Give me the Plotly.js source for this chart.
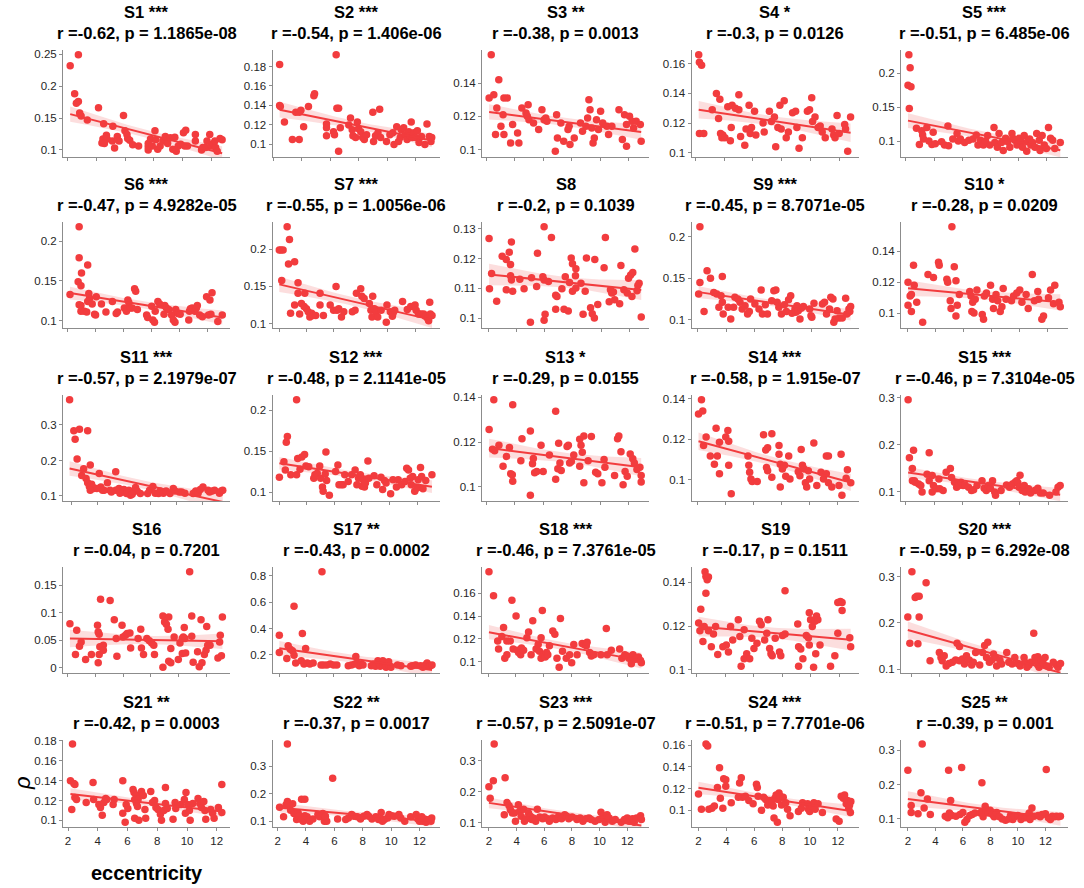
<!DOCTYPE html>
<html><head><meta charset="utf-8">
<script src="https://cdn.plot.ly/plotly-3.0.1.min.js"></script>
<style>html,body{margin:0;padding:0;background:#fff}#chart{width:1084px;height:888px}</style>
</head><body><div id="chart"></div>
<script>
const subjects = ['S1','S2','S3','S4','S5','S6','S7','S8','S9','S10','S11','S12','S13','S14','S15','S16','S17','S18','S19','S20','S21','S22','S23','S24','S25'];
const stars = ['***','***','**','*','***','***','***','','***','*','***','***','*','***','***','','**','***','','***','**','**','***','***','**'];
const rValues = ['-0.62','-0.54','-0.38','-0.3','-0.51','-0.47','-0.55','-0.2','-0.45','-0.28','-0.57','-0.48','-0.29','-0.58','-0.46','-0.04','-0.43','-0.46','-0.17','-0.59','-0.42','-0.37','-0.57','-0.51','-0.39'];
const pValues = ['1.1865e-08','1.406e-06','0.0013','0.0126','6.485e-06','4.9282e-05','1.0056e-06','0.1039','8.7071e-05','0.0209','2.1979e-07','2.1141e-05','0.0155','1.915e-07','7.3104e-05','0.7201','0.0002','7.3761e-05','0.1511','6.292e-08','0.0003','0.0017','2.5091e-07','7.7701e-06','0.001'];
const xTicks = [2,4,6,8,10,12];
const yTicks = [
 [0.1,0.15,0.2,0.25],[0.1,0.12,0.14,0.16,0.18],[0.1,0.12,0.14],[0.1,0.12,0.14,0.16],[0.1,0.15,0.2],
 [0.1,0.15,0.2],[0.1,0.15,0.2],[0.1,0.11,0.12,0.13],[0.1,0.15,0.2],[0.1,0.12,0.14],
 [0.1,0.2,0.3],[0.1,0.15,0.2],[0.1,0.12,0.14],[0.1,0.12,0.14],[0.1,0.2,0.3],
 [0,0.05,0.1,0.15],[0.2,0.4,0.6,0.8],[0.1,0.12,0.14,0.16],[0.1,0.12,0.14],[0.1,0.2,0.3],
 [0.1,0.12,0.14,0.16,0.18],[0.1,0.2,0.3],[0.1,0.2,0.3],[0.1,0.12,0.14,0.16],[0.1,0.2,0.3]
];

const s1x=[2.17,2.74,2.48,2.74,2.6,2.83,2.93,3.36,4.14,4.5,4.45,4.38,4.69,4.74,4.55,5.14,5.1,5.26,5.45,5.57,5.88,5.98,6.12,6.17,6.31,6.52,6.93,7.6,7.6,7.6,7.76,7.88,8.07,8.12,8.26,8.43,8.62,8.79,8.95,9.14,9.31,9.45,9.55,9.69,9.86,10.05,10.21,10.14,10.33,10.88,10.88,11.31,11.4,11.6,11.69,11.88,12.0,12.12,12.29,12.4,12.6,12.74,12.24];
const s1y=[0.232,0.249,0.188,0.176,0.173,0.158,0.153,0.147,0.166,0.141,0.117,0.111,0.123,0.117,0.110,0.137,0.114,0.103,0.121,0.114,0.154,0.130,0.124,0.118,0.115,0.108,0.106,0.110,0.105,0.100,0.117,0.106,0.130,0.116,0.101,0.106,0.114,0.121,0.110,0.119,0.101,0.120,0.098,0.106,0.109,0.127,0.131,0.106,0.106,0.124,0.114,0.100,0.104,0.104,0.114,0.124,0.106,0.110,0.104,0.098,0.118,0.116,0.114];
const s2x=[2.43,2.43,2.48,2.77,3.33,3.81,3.57,3.81,3.93,4.12,4.46,4.84,4.89,5.73,5.73,5.73,6.22,6.29,6.41,6.46,6.58,6.58,6.7,7.3,7.42,7.54,7.59,7.78,7.9,7.98,8.14,8.27,8.39,8.55,8.99,9.04,9.18,9.35,9.47,9.54,9.95,10.19,10.39,10.48,10.67,10.8,10.92,10.99,11.16,11.28,11.4,11.52,11.59,11.69,11.76,11.88,12.0,12.12,12.24,12.41,12.65,12.8,12.96,13.08,13.13];
const s2y=[0.182,0.140,0.139,0.123,0.105,0.105,0.133,0.133,0.135,0.118,0.139,0.150,0.152,0.121,0.117,0.109,0.113,0.110,0.192,0.137,0.137,0.093,0.117,0.120,0.127,0.115,0.109,0.107,0.123,0.116,0.113,0.107,0.105,0.110,0.133,0.103,0.109,0.112,0.136,0.107,0.103,0.110,0.112,0.100,0.118,0.103,0.107,0.115,0.117,0.110,0.105,0.113,0.109,0.123,0.107,0.112,0.107,0.114,0.102,0.108,0.100,0.121,0.108,0.103,0.107];
const s3x=[2.2,2.35,2.53,2.74,2.65,2.88,3.03,3.18,3.24,3.47,3.24,3.71,3.85,4.2,4.29,4.5,4.79,4.88,4.94,5.0,5.32,5.68,5.91,6.06,6.18,6.26,6.85,6.94,7.0,7.24,7.44,7.74,7.82,7.88,8.18,8.62,8.76,9.0,9.12,9.21,9.29,9.41,9.5,9.59,9.74,9.88,10.03,10.18,10.47,10.59,10.82,11.32,11.56,11.71,11.85,11.85,12.06,12.24,12.35,12.53,12.82,12.88];
const s3y=[0.131,0.157,0.133,0.125,0.109,0.142,0.114,0.121,0.131,0.131,0.109,0.104,0.115,0.110,0.104,0.125,0.122,0.120,0.127,0.118,0.116,0.112,0.124,0.118,0.119,0.117,0.099,0.121,0.107,0.116,0.105,0.112,0.114,0.103,0.107,0.116,0.111,0.114,0.119,0.130,0.124,0.113,0.104,0.107,0.118,0.112,0.123,0.116,0.114,0.109,0.114,0.124,0.106,0.121,0.102,0.115,0.120,0.117,0.113,0.117,0.115,0.105];
const s4x=[2.24,2.29,2.44,2.29,2.59,3.18,3.47,3.62,3.71,3.76,3.85,3.91,4.06,4.26,4.44,4.5,4.56,4.79,5.03,5.03,5.15,5.44,5.53,5.74,5.82,5.91,6.12,6.21,6.71,6.79,7.15,7.29,7.5,7.59,7.74,7.88,7.97,8.18,8.32,8.47,8.76,8.97,9.06,9.21,9.44,9.79,9.94,10.09,10.15,10.32,10.53,10.68,10.82,11.03,11.5,11.62,11.71,11.85,12.0,12.38,12.44,12.59,12.79];
const s4y=[0.166,0.161,0.159,0.113,0.113,0.129,0.140,0.123,0.136,0.113,0.110,0.112,0.110,0.131,0.108,0.117,0.132,0.130,0.139,0.129,0.111,0.105,0.116,0.132,0.113,0.117,0.128,0.112,0.120,0.114,0.128,0.121,0.124,0.104,0.117,0.132,0.116,0.135,0.110,0.114,0.127,0.128,0.117,0.103,0.110,0.128,0.129,0.137,0.121,0.124,0.117,0.118,0.114,0.110,0.116,0.112,0.110,0.125,0.113,0.119,0.116,0.101,0.124];
const s5x=[2.21,2.3,2.15,2.36,2.24,2.75,2.96,3.13,3.19,3.25,3.49,3.64,3.85,3.94,4.09,4.54,4.75,4.99,5.04,5.34,5.64,5.73,5.88,6.18,6.48,6.78,7.01,7.13,7.31,7.52,7.67,7.82,7.97,8.27,8.33,8.51,8.63,8.81,8.93,9.1,9.25,9.4,9.55,9.61,9.76,9.91,10.06,10.21,10.3,10.42,10.6,10.66,10.81,10.9,11.01,11.19,11.31,11.49,11.55,11.7,11.85,12.0,12.15,12.3,12.45,12.6,12.99];
const s5y=[0.227,0.208,0.182,0.180,0.148,0.119,0.095,0.115,0.109,0.103,0.120,0.100,0.095,0.113,0.096,0.099,0.094,0.122,0.093,0.103,0.111,0.100,0.103,0.098,0.101,0.103,0.109,0.094,0.101,0.094,0.100,0.108,0.094,0.120,0.098,0.091,0.111,0.098,0.086,0.104,0.099,0.091,0.111,0.104,0.101,0.094,0.104,0.099,0.091,0.108,0.085,0.099,0.103,0.094,0.098,0.091,0.111,0.101,0.086,0.108,0.094,0.089,0.120,0.104,0.101,0.089,0.098];
const s6x=[2.2,2.85,2.85,2.78,2.98,3.02,2.85,2.98,2.98,3.22,3.39,3.46,3.54,3.59,3.46,3.78,3.95,4.02,4.07,4.44,4.76,5.22,5.49,5.59,6.07,6.22,6.32,6.39,6.51,6.63,6.8,6.88,7.0,7.66,7.73,8.02,8.1,8.22,8.27,8.46,8.59,8.9,8.95,9.07,9.24,9.44,9.56,9.68,9.73,9.88,10.05,10.66,10.71,10.78,10.9,11.1,11.2,11.27,11.44,11.63,11.93,12.07,12.17,12.24,12.32,12.73,13.05];
const s6y=[0.133,0.218,0.179,0.149,0.144,0.160,0.120,0.119,0.112,0.112,0.111,0.170,0.134,0.128,0.124,0.121,0.108,0.107,0.130,0.121,0.111,0.124,0.109,0.111,0.116,0.112,0.126,0.123,0.116,0.116,0.140,0.137,0.114,0.107,0.104,0.118,0.101,0.098,0.112,0.124,0.121,0.108,0.119,0.116,0.114,0.107,0.101,0.098,0.114,0.109,0.108,0.101,0.112,0.115,0.116,0.112,0.116,0.119,0.107,0.105,0.130,0.107,0.126,0.108,0.135,0.099,0.107];
const s7x=[2.0,2.12,2.28,2.18,2.58,2.75,2.68,2.83,3.13,3.13,3.38,3.38,3.5,3.63,3.83,3.88,4.0,4.13,4.25,4.38,4.5,4.68,5.0,5.0,5.25,5.75,6.0,6.18,6.25,6.38,6.58,6.75,7.38,7.58,7.68,8.0,8.08,8.25,8.63,8.75,8.83,8.88,9.0,9.13,9.25,9.5,9.88,9.93,10.18,10.33,10.38,10.5,11.08,11.43,11.68,11.88,12.0,12.08,12.25,12.43,12.63,12.75,12.93,13.0,13.08,13.13,13.25];
const s7y=[0.199,0.199,0.199,0.158,0.230,0.213,0.180,0.114,0.183,0.125,0.155,0.141,0.113,0.127,0.123,0.141,0.120,0.116,0.109,0.114,0.111,0.111,0.141,0.125,0.111,0.125,0.118,0.150,0.118,0.120,0.109,0.116,0.116,0.118,0.141,0.147,0.137,0.134,0.127,0.118,0.109,0.137,0.120,0.116,0.109,0.118,0.102,0.125,0.116,0.110,0.114,0.118,0.130,0.119,0.123,0.123,0.125,0.118,0.113,0.113,0.113,0.110,0.107,0.104,0.129,0.113,0.111];
const s8x=[2.06,2.09,2.24,2.6,2.99,3.28,3.28,3.49,3.58,3.64,3.58,3.64,3.73,4.24,4.54,4.99,5.07,5.43,5.49,5.87,5.96,5.96,6.03,5.96,6.27,6.48,6.78,6.87,6.78,7.22,7.37,7.67,7.46,7.76,7.88,7.97,7.97,8.21,8.18,8.21,8.57,8.72,8.87,8.96,9.25,9.37,9.52,9.55,9.76,10.21,10.3,10.57,10.66,10.75,10.96,10.87,11.31,11.4,11.61,11.85,11.94,12.09,12.24,12.18,12.39,12.54,12.6,12.69,12.84];
const s8y=[0.1268,0.1099,0.1150,0.1057,0.1208,0.1197,0.1095,0.1221,0.1180,0.1256,0.1142,0.1128,0.1090,0.1131,0.1099,0.0986,0.1136,0.1106,0.1218,0.1139,0.1128,0.1307,0.1013,0.0993,0.1123,0.1271,0.1077,0.1073,0.1030,0.1099,0.1030,0.1024,0.1139,0.1120,0.1202,0.1183,0.1090,0.1166,0.1142,0.1101,0.1117,0.1013,0.1090,0.1202,0.1035,0.1015,0.1000,0.1197,0.1046,0.1169,0.1271,0.1055,0.1095,0.1084,0.1062,0.1088,0.1048,0.1177,0.1095,0.1084,0.1134,0.1145,0.1153,0.1073,0.1232,0.1092,0.1110,0.1117,0.1004];
const s9x=[2.15,2.06,2.15,2.65,2.89,2.44,3.12,3.33,3.48,3.63,3.72,3.78,3.72,4.13,4.31,4.51,4.6,4.81,4.96,5.11,5.31,5.49,5.61,5.7,6.0,6.29,6.44,6.53,6.73,6.88,7.18,7.33,7.47,7.56,7.68,7.86,8.07,8.21,8.36,8.51,8.6,8.81,8.86,8.95,9.04,9.16,9.25,9.4,9.84,9.93,9.99,10.14,10.73,10.88,11.02,11.23,11.32,11.47,11.53,11.62,11.76,11.91,12.12,12.36,12.44,12.59,12.71,12.65];
const s9y=[0.212,0.131,0.145,0.159,0.150,0.110,0.133,0.131,0.115,0.129,0.152,0.107,0.121,0.115,0.101,0.115,0.127,0.125,0.121,0.113,0.117,0.107,0.110,0.125,0.119,0.113,0.136,0.107,0.118,0.107,0.123,0.135,0.136,0.121,0.115,0.107,0.118,0.110,0.124,0.129,0.108,0.113,0.109,0.117,0.111,0.101,0.114,0.116,0.113,0.105,0.103,0.120,0.119,0.121,0.107,0.113,0.127,0.125,0.097,0.101,0.111,0.102,0.102,0.126,0.107,0.113,0.116,0.110];
const s10x=[2.06,2.06,2.21,2.3,2.3,2.45,2.5,2.68,3.1,3.48,3.87,4.23,4.28,4.82,4.88,5.06,5.12,5.18,5.35,5.47,5.47,5.56,5.71,6.45,6.54,6.6,6.75,6.66,6.84,6.96,7.34,7.43,7.49,7.64,7.93,8.08,8.14,8.32,8.44,8.62,8.74,8.83,9.03,9.42,9.57,9.8,10.01,10.16,10.46,10.61,10.9,11.05,11.29,11.35,11.58,11.7,12.05,12.2,12.5,12.41,12.8,12.89];
const s10y=[0.120,0.105,0.111,0.112,0.101,0.131,0.118,0.107,0.094,0.125,0.123,0.133,0.131,0.122,0.120,0.108,0.103,0.156,0.130,0.121,0.098,0.105,0.112,0.114,0.111,0.101,0.100,0.107,0.109,0.115,0.099,0.096,0.111,0.113,0.118,0.109,0.103,0.112,0.108,0.101,0.104,0.116,0.109,0.108,0.111,0.113,0.115,0.107,0.112,0.103,0.125,0.108,0.114,0.109,0.096,0.098,0.110,0.115,0.118,0.106,0.107,0.104];
const s11x=[1.88,2.2,2.3,2.63,2.45,3.25,2.95,3.45,2.8,3.13,3.25,3.38,3.55,3.7,4.13,4.25,4.38,4.75,4.95,5.38,5.38,5.63,5.88,6.0,6.2,6.38,6.5,6.7,6.88,7.0,7.25,7.8,7.95,8.2,8.38,8.63,8.75,9.0,9.2,9.5,9.75,9.88,10.2,10.38,10.63,11.25,11.45,11.63,11.8,12.0,12.38,12.5,12.7,12.88,13.25,13.38,13.5,4.5,5.05,3.95,3.63,3.45,5.7,6.63];
const s11y=[0.371,0.284,0.260,0.288,0.204,0.284,0.177,0.187,0.158,0.149,0.137,0.127,0.133,0.121,0.163,0.125,0.116,0.137,0.116,0.168,0.116,0.121,0.111,0.118,0.107,0.116,0.102,0.111,0.124,0.114,0.107,0.107,0.116,0.127,0.108,0.107,0.114,0.108,0.114,0.107,0.121,0.114,0.111,0.111,0.108,0.107,0.114,0.108,0.118,0.125,0.116,0.111,0.114,0.116,0.108,0.114,0.116,0.116,0.111,0.121,0.125,0.116,0.108,0.105];
const s12x=[2.0,2.33,2.43,2.5,2.58,2.83,3.25,3.25,3.33,3.5,3.63,3.83,3.93,4.13,4.5,4.58,4.75,4.93,5.0,5.13,5.18,5.33,5.38,5.43,5.63,6.08,6.25,6.33,6.5,6.63,6.75,7.0,7.25,7.5,7.63,7.75,7.88,8.0,8.08,8.18,8.25,8.43,8.5,8.88,9.08,9.38,9.5,9.63,9.75,10.08,10.25,10.5,10.63,10.88,11.13,11.25,11.38,11.5,11.58,11.68,11.83,12.0,12.08,12.25,12.33,12.43,12.63,13.08];
const s12y=[0.118,0.137,0.127,0.161,0.168,0.121,0.213,0.121,0.141,0.128,0.143,0.146,0.132,0.131,0.117,0.121,0.123,0.132,0.117,0.106,0.101,0.122,0.149,0.114,0.096,0.125,0.133,0.109,0.109,0.109,0.121,0.113,0.121,0.127,0.109,0.117,0.121,0.107,0.115,0.106,0.111,0.138,0.117,0.120,0.109,0.118,0.103,0.114,0.111,0.098,0.115,0.106,0.115,0.109,0.113,0.129,0.127,0.117,0.109,0.119,0.101,0.105,0.115,0.130,0.119,0.104,0.114,0.121];
const s13x=[2.2,2.53,2.44,2.59,2.89,3.18,3.42,3.63,3.72,3.83,3.86,3.86,4.43,4.51,5.1,5.1,5.25,5.31,5.4,5.55,5.85,6.0,6.44,6.88,6.88,7.03,7.09,7.18,7.27,7.68,7.77,7.86,7.98,8.15,8.57,8.66,8.57,8.75,8.86,8.86,9.16,9.39,9.69,9.84,10.13,10.28,10.34,11.02,11.23,11.32,11.47,11.62,11.76,11.91,12.12,12.3,12.41,12.59,12.8,12.89,12.89];
const s13y=[0.1256,0.1388,0.1168,0.1161,0.1186,0.1092,0.1136,0.1176,0.1059,0.1054,0.1025,0.1366,0.1117,0.1215,0.0963,0.1249,0.1103,0.1127,0.1063,0.1069,0.1186,0.1069,0.1142,0.1337,0.1034,0.1081,0.1195,0.1107,0.1073,0.1180,0.1186,0.1107,0.1113,0.1142,0.1092,0.1186,0.1212,0.1154,0.1227,0.1019,0.1117,0.1224,0.1066,0.1059,0.1019,0.1122,0.1088,0.1051,0.1215,0.1227,0.1157,0.1010,0.1069,0.1048,0.1147,0.1125,0.1107,0.1078,0.1088,0.1051,0.1022];
const s14x=[2.09,2.3,2.39,2.45,2.63,2.93,3.22,3.34,3.43,3.58,3.58,4.03,4.18,4.24,4.24,4.42,5.61,5.67,5.73,5.82,5.91,6.27,6.72,6.87,7.01,6.93,7.01,7.31,7.31,7.82,7.82,7.91,7.91,8.06,8.21,8.3,8.51,8.6,9.19,9.31,9.4,9.49,9.61,9.7,9.79,9.91,10.0,10.3,10.51,10.81,10.99,11.19,11.34,11.34,11.58,12.09,12.24,12.3,12.6,12.69,12.93,11.19];
const s14y=[0.1324,0.1395,0.1340,0.1168,0.1211,0.1117,0.1076,0.1254,0.1117,0.1028,0.1185,0.1211,0.1243,0.1071,0.1189,0.0930,0.1117,0.1071,0.1036,0.1003,0.0990,0.0990,0.1222,0.1146,0.1157,0.1060,0.1044,0.1227,0.1011,0.1168,0.1125,0.1076,0.0963,0.1052,0.1071,0.1016,0.1117,0.1003,0.1039,0.1019,0.1149,0.1071,0.1052,0.0984,0.0963,0.1044,0.1003,0.1181,0.0971,0.1036,0.1003,0.1117,0.1117,0.0984,0.0963,0.0971,0.1125,0.0922,0.1006,0.1049,0.0984,0.1028];
const s15x=[2.15,2.24,2.53,2.45,2.45,2.59,2.65,2.89,3.04,3.13,3.48,3.63,3.63,3.84,3.84,3.93,4.14,4.37,4.61,4.31,4.82,5.12,5.2,5.41,5.56,5.71,5.86,6.01,6.15,6.39,6.6,6.75,6.99,7.34,7.49,7.64,7.79,7.93,8.08,8.23,8.29,8.68,9.06,9.27,9.48,9.66,9.78,9.86,10.01,9.95,10.16,10.31,10.37,10.61,10.75,11.05,11.26,11.44,11.64,12.09,12.53,12.68,12.83];
const s15y=[0.296,0.172,0.188,0.149,0.123,0.123,0.120,0.116,0.113,0.099,0.137,0.123,0.183,0.134,0.099,0.113,0.106,0.106,0.102,0.127,0.141,0.149,0.130,0.120,0.109,0.113,0.120,0.113,0.114,0.109,0.102,0.104,0.113,0.123,0.107,0.102,0.113,0.107,0.123,0.099,0.092,0.102,0.114,0.109,0.116,0.120,0.123,0.118,0.135,0.109,0.102,0.113,0.099,0.106,0.097,0.102,0.107,0.097,0.097,0.092,0.099,0.109,0.113];
const s16x=[2.17,2.66,2.57,2.86,2.98,3.3,3.72,4.16,4.21,4.28,4.38,4.21,4.33,4.46,4.28,4.58,4.58,5.07,5.37,5.51,5.56,5.93,6.0,6.18,6.3,6.5,6.55,7.09,7.28,7.33,7.48,7.72,7.9,8.07,8.22,8.27,8.88,8.88,9.0,9.13,9.3,9.25,9.3,9.45,9.45,9.69,9.99,10.11,10.28,10.35,10.47,10.28,10.52,10.42,10.81,10.96,10.96,11.06,11.38,11.5,11.63,11.7,11.87,11.99,12.04,12.11,12.28,12.85,12.97,13.02,13.1,13.17];
const s16y=[0.080,0.068,0.024,0.039,0.047,0.015,0.024,0.077,0.065,0.061,0.124,0.009,0.038,0.038,0.024,0.041,0.032,0.122,0.087,0.053,0.021,0.077,0.056,0.059,0.062,0.063,0.036,0.053,0.070,0.036,0.024,0.053,0.049,0.045,0.041,0.024,0.094,0.001,0.083,0.079,0.092,0.070,0.012,0.009,0.035,0.056,0.015,0.045,0.053,0.056,0.053,0.026,0.027,0.073,0.174,0.094,0.057,0.010,0.029,0.002,0.087,0.009,0.024,0.032,0.075,0.041,0.041,0.018,0.047,0.059,0.022,0.092];
const s17x=[2.0,2.0,2.55,2.65,2.8,2.96,3.08,3.08,3.2,3.69,3.61,3.93,3.81,4.05,4.24,4.48,5.13,5.06,5.25,5.49,5.73,5.98,6.22,7.06,7.3,7.54,7.61,7.71,7.86,8.02,8.14,8.75,8.92,9.06,9.23,9.3,9.4,9.59,9.71,9.83,9.95,10.07,10.19,10.67,10.92,11.64,11.76,12.0,12.36,12.53,12.72,12.84,12.96,13.08,13.2,9.59,10.02];
const s17y=[0.348,0.218,0.172,0.268,0.243,0.230,0.197,0.569,0.137,0.363,0.155,0.248,0.130,0.137,0.130,0.137,0.832,0.122,0.122,0.122,0.130,0.122,0.122,0.117,0.122,0.130,0.187,0.137,0.117,0.130,0.122,0.117,0.130,0.112,0.155,0.137,0.112,0.122,0.137,0.105,0.130,0.117,0.105,0.122,0.117,0.112,0.117,0.122,0.117,0.105,0.122,0.137,0.112,0.117,0.122,0.155,0.147];
const s18x=[2.06,2.39,2.69,2.75,2.99,3.11,3.2,3.35,3.35,3.59,3.71,3.8,4.01,4.1,4.19,4.34,4.4,4.55,4.79,4.91,5.09,5.21,5.45,5.6,5.69,5.81,5.9,5.81,5.99,6.11,6.2,6.29,6.41,6.65,6.8,6.95,7.11,7.2,7.35,7.62,7.86,8.01,8.16,8.4,8.76,8.91,9.06,9.12,9.3,9.42,9.6,10.11,10.5,10.56,10.86,11.46,11.62,11.83,12.0,12.12,12.3,12.42,12.6,12.81,12.96,13.02];
const s18y=[0.179,0.158,0.118,0.111,0.122,0.130,0.103,0.106,0.118,0.118,0.154,0.111,0.140,0.110,0.108,0.106,0.112,0.110,0.121,0.126,0.106,0.136,0.111,0.115,0.109,0.121,0.145,0.103,0.106,0.104,0.108,0.106,0.114,0.127,0.124,0.103,0.095,0.138,0.109,0.103,0.106,0.099,0.115,0.106,0.116,0.115,0.114,0.117,0.108,0.105,0.106,0.106,0.129,0.106,0.110,0.111,0.103,0.106,0.105,0.103,0.098,0.106,0.102,0.104,0.101,0.099];
const s19x=[2.15,2.24,2.3,2.45,2.6,2.66,2.75,2.84,2.66,2.54,2.84,3.04,3.19,3.34,3.49,3.85,4.09,4.24,4.39,4.54,4.93,5.04,5.13,5.34,5.34,5.52,5.73,5.88,6.03,6.24,6.42,6.54,6.78,6.93,7.01,7.13,7.22,7.31,7.52,7.82,7.91,8.03,8.21,8.21,9.1,9.16,9.31,9.16,9.46,9.7,9.85,9.91,10.0,9.91,10.12,10.21,10.3,10.42,10.51,10.36,10.66,11.4,11.7,11.91,11.91,12.09,12.21,12.21,12.75,12.81];
const s19y=[0.1214,0.1178,0.1276,0.1129,0.1447,0.1426,0.1411,0.1423,0.1349,0.1198,0.1178,0.1105,0.1163,0.1198,0.1070,0.1105,0.1113,0.1082,0.1198,0.1136,0.1229,0.1152,0.1017,0.1051,0.1183,0.1074,0.1051,0.1144,0.1098,0.1121,0.1222,0.1206,0.1136,0.1167,0.1229,0.1098,0.1074,0.1064,0.1144,0.1082,0.1064,0.1157,0.1163,0.1361,0.1209,0.1105,0.1095,0.1017,0.1051,0.1157,0.1147,0.1260,0.1229,0.1113,0.1198,0.1012,0.1222,0.1245,0.1229,0.1074,0.1113,0.1017,0.1064,0.1167,0.1307,0.1312,0.1307,0.1271,0.1147,0.1105];
const s20x=[1.7,1.85,2.0,2.24,2.36,2.53,2.53,2.44,3.04,3.33,4.01,4.13,4.22,4.37,4.51,4.72,4.96,5.2,5.31,5.49,5.49,5.7,5.85,6.0,6.2,6.38,6.5,6.67,6.97,7.18,7.33,7.56,7.47,7.68,7.86,7.98,8.15,8.21,8.45,8.57,8.95,9.1,9.34,9.54,9.75,9.93,10.22,10.28,10.43,10.58,10.73,10.93,11.02,11.11,11.23,11.23,11.32,11.47,11.62,11.76,11.91,12.06,12.36,12.59,12.71,12.89];
const s20y=[0.213,0.156,0.311,0.255,0.258,0.258,0.213,0.155,0.287,0.118,0.136,0.125,0.118,0.129,0.107,0.112,0.115,0.120,0.156,0.149,0.118,0.122,0.111,0.129,0.120,0.109,0.115,0.136,0.109,0.136,0.151,0.158,0.125,0.115,0.120,0.133,0.125,0.107,0.120,0.111,0.136,0.115,0.111,0.125,0.112,0.107,0.125,0.115,0.104,0.109,0.115,0.178,0.125,0.118,0.127,0.109,0.104,0.120,0.112,0.125,0.107,0.104,0.115,0.109,0.104,0.112];
const s21x=[2.16,2.3,2.25,2.39,2.46,2.46,2.57,3.22,3.68,3.72,4.07,4.18,4.3,4.41,4.53,4.6,5.03,5.1,5.68,5.68,5.84,5.91,6.02,6.37,6.44,6.6,6.48,6.71,6.6,6.67,6.48,6.76,6.94,7.06,7.17,7.22,7.56,7.68,7.82,7.91,8.05,8.21,8.28,8.44,8.55,8.55,8.67,9.06,9.2,9.24,9.59,9.82,9.93,9.89,10.05,10.16,10.21,10.39,10.74,10.86,10.97,11.13,11.2,11.26,11.59,11.72,11.82,12.11,12.34,12.34];
const s21y=[0.140,0.177,0.111,0.137,0.136,0.123,0.121,0.118,0.138,0.121,0.116,0.113,0.105,0.118,0.122,0.121,0.116,0.121,0.140,0.107,0.098,0.116,0.112,0.131,0.128,0.125,0.121,0.121,0.117,0.114,0.102,0.100,0.129,0.125,0.111,0.102,0.129,0.118,0.120,0.113,0.111,0.106,0.100,0.110,0.133,0.117,0.112,0.101,0.118,0.112,0.116,0.121,0.128,0.107,0.116,0.110,0.100,0.117,0.122,0.117,0.113,0.119,0.110,0.101,0.111,0.107,0.102,0.113,0.136,0.108];
const s22x=[2.14,2.42,2.6,2.69,2.69,2.76,2.92,3.06,3.15,3.34,3.45,3.52,3.69,3.92,3.69,3.8,3.92,4.08,4.22,4.26,4.49,4.84,4.96,5.19,5.3,5.46,5.37,5.88,6.23,6.8,6.99,7.22,7.38,7.61,7.84,8.07,8.3,8.42,8.65,8.93,9.11,9.3,9.39,9.53,9.76,9.85,10.04,10.22,10.55,10.68,10.96,11.38,11.77,11.88,12.0,12.16,12.23,12.35,12.53,12.7,12.86,12.46,12.81];
const s22y=[0.151,0.116,0.160,0.381,0.172,0.163,0.140,0.163,0.128,0.106,0.130,0.118,0.180,0.180,0.106,0.100,0.120,0.116,0.106,0.100,0.108,0.124,0.116,0.128,0.100,0.100,0.118,0.256,0.108,0.106,0.112,0.124,0.118,0.116,0.108,0.118,0.124,0.118,0.108,0.116,0.106,0.132,0.100,0.106,0.112,0.124,0.120,0.118,0.124,0.112,0.100,0.116,0.124,0.108,0.100,0.116,0.100,0.108,0.104,0.106,0.112,0.096,0.100];
const s23x=[2.0,2.09,2.38,2.32,3.17,3.11,3.31,3.46,3.55,3.69,3.84,3.92,4.13,4.22,4.33,4.51,4.57,4.71,4.86,5.0,5.09,5.21,5.38,5.5,5.67,5.88,6.02,6.26,6.37,6.61,6.84,7.04,7.25,7.48,7.63,7.77,8.01,8.36,8.59,8.79,9.0,9.23,9.38,9.67,9.96,10.1,10.25,10.34,10.4,10.54,10.69,10.92,11.13,11.56,11.8,12.0,12.15,12.38,12.5,12.67,12.96,13.02];
const s23y=[0.216,0.179,0.353,0.235,0.245,0.126,0.165,0.155,0.142,0.132,0.132,0.105,0.158,0.137,0.121,0.144,0.105,0.113,0.132,0.121,0.111,0.116,0.105,0.144,0.119,0.113,0.119,0.113,0.105,0.116,0.111,0.121,0.113,0.126,0.121,0.113,0.119,0.111,0.116,0.105,0.113,0.116,0.111,0.105,0.111,0.134,0.121,0.113,0.102,0.126,0.116,0.105,0.111,0.102,0.111,0.116,0.105,0.113,0.102,0.116,0.123,0.111];
const s24x=[2.0,2.21,2.54,2.66,2.75,2.96,3.14,3.36,3.51,3.57,3.75,3.81,3.96,3.96,4.35,4.95,5.07,4.86,5.16,5.37,5.61,5.92,6.16,6.22,6.28,6.52,6.67,6.82,6.97,7.12,7.27,7.36,7.42,7.48,7.57,7.66,7.72,7.78,7.87,7.96,8.08,8.26,8.39,8.57,9.17,9.38,9.47,9.83,9.89,9.98,10.13,10.28,10.37,10.58,10.89,11.88,12.09,12.24,12.39,12.48,12.6,12.69,12.78,12.9,12.84,12.93];
const s24y=[0.115,0.101,0.161,0.159,0.101,0.102,0.104,0.121,0.139,0.111,0.102,0.129,0.128,0.122,0.107,0.125,0.130,0.112,0.112,0.113,0.109,0.106,0.124,0.121,0.113,0.100,0.112,0.110,0.105,0.109,0.107,0.104,0.093,0.111,0.114,0.089,0.110,0.116,0.113,0.105,0.112,0.107,0.101,0.095,0.099,0.102,0.107,0.106,0.101,0.099,0.104,0.107,0.101,0.106,0.098,0.092,0.090,0.113,0.111,0.114,0.106,0.109,0.102,0.098,0.105,0.108];
const s25x=[2.0,2.24,2.24,2.74,2.95,3.04,3.18,3.42,3.63,4.72,4.9,4.96,5.11,5.02,5.2,5.49,5.79,5.91,6.0,6.14,6.29,6.5,6.67,6.88,7.27,7.38,7.38,7.47,7.62,7.68,7.86,7.98,8.15,8.27,8.45,8.66,8.86,9.1,9.34,9.46,9.63,9.75,9.99,10.22,10.34,10.52,10.64,10.82,10.88,11.02,11.17,11.47,11.62,11.76,12.0,12.06,12.21,12.36,12.5,12.65,12.8,12.95,13.09];
const s25y=[0.242,0.138,0.118,0.114,0.176,0.319,0.131,0.157,0.112,0.107,0.102,0.242,0.153,0.116,0.109,0.107,0.112,0.250,0.118,0.089,0.097,0.109,0.112,0.116,0.116,0.121,0.205,0.105,0.136,0.126,0.116,0.124,0.112,0.105,0.118,0.105,0.099,0.095,0.099,0.109,0.097,0.105,0.109,0.097,0.105,0.102,0.107,0.116,0.097,0.131,0.107,0.109,0.105,0.112,0.114,0.244,0.102,0.097,0.107,0.105,0.107,0.105,0.107];

const XS=[s1x,s2x,s3x,s4x,s5x,s6x,s7x,s8x,s9x,s10x,s11x,s12x,s13x,s14x,s15x,s16x,s17x,s18x,s19x,s20x,s21x,s22x,s23x,s24x,s25x];
const YS=[s1y,s2y,s3y,s4y,s5y,s6y,s7y,s8y,s9y,s10y,s11y,s12y,s13y,s14y,s15y,s16y,s17y,s18y,s19y,s20y,s21y,s22y,s23y,s24y,s25y];

const W=1084, H=888;
const colLeft=[63,272.5,482,691.5,901], colW=167;
const rowTop=[50,222,395,567,740], rowBot=[157,328,501,673,827];
const RED='rgb(242,60,62)';
const AX='#8c8c8c';
const FONT='"Liberation Sans", Arial, Helvetica, sans-serif';

function regress(x,y){
  const n=Math.min(x.length,y.length);
  let xm=0,ym=0; for(let i=0;i<n;i++){xm+=x[i];ym+=y[i];} xm/=n; ym/=n;
  let sxx=0,sxy=0; for(let i=0;i<n;i++){sxx+=(x[i]-xm)**2; sxy+=(x[i]-xm)*(y[i]-ym);}
  const b=sxy/sxx, a=ym-b*xm;
  let sse=0; for(let i=0;i<n;i++){sse+=(y[i]-a-b*x[i])**2;}
  const s2=sse/(n-2), t=2.0;
  const xmin=Math.min(...x.slice(0,n)), xmax=Math.max(...x.slice(0,n));
  const bx=[],lo=[],hi=[];
  for(let k=0;k<=40;k++){const xv=xmin+(xmax-xmin)*k/40; const yh=a+b*xv; const se=Math.sqrt(s2*(1/n+(xv-xm)**2/sxx)); bx.push(xv); lo.push(yh-t*se); hi.push(yh+t*se);}
  return {a,b,xmin,xmax,bx,lo,hi,n};
}

const traces=[]; const layout={width:W,height:H,margin:{l:0,r:0,t:0,b:0},showlegend:false,paper_bgcolor:'#fff',plot_bgcolor:'#fff',annotations:[]};
for(let i=0;i<25;i++){
  const r=Math.floor(i/5), c=i%5;
  const sfx = i===0?'':String(i+1);
  const xa='x'+sfx, ya='y'+sfx;
  const x=XS[i], y=YS[i];
  const R=regress(x,y);
  const n=R.n;
  const ymin=Math.min(...y.slice(0,n)), ymax=Math.max(...y.slice(0,n));
  const span=ymax-ymin;
  traces.push({type:'scatter',mode:'lines',x:R.bx.concat(R.bx.slice().reverse()),y:R.hi.concat(R.lo.slice().reverse()),fill:'toself',fillcolor:'rgba(242,90,90,0.2)',line:{width:0,color:'rgba(0,0,0,0)'},xaxis:xa,yaxis:ya,hoverinfo:'skip'});
  traces.push({type:'scatter',mode:'markers',x:x.slice(0,n),y:y.slice(0,n),marker:{size:7.5,color:RED},xaxis:xa,yaxis:ya});
  traces.push({type:'scatter',mode:'lines',x:[R.xmin,R.xmax],y:[R.a+R.b*R.xmin,R.a+R.b*R.xmax],line:{color:RED,width:2},xaxis:xa,yaxis:ya});
  const L=colLeft[c];
  layout['xaxis'+sfx]={domain:[L/W,(L+colW)/W],anchor:ya,range:[R.xmin-0.5,R.xmax+0.55],tickmode:'array',tickvals:xTicks,ticktext:xTicks.map(String),showticklabels:r===4,ticks:'outside',ticklen:3,tickcolor:AX,showline:true,linecolor:AX,linewidth:1,showgrid:false,zeroline:false,tickfont:{family:FONT,size:11.5,color:'#262626'}};
  layout['yaxis'+sfx]={domain:[1-rowBot[r]/H,1-rowTop[r]/H],anchor:xa,range:[ymin-0.06*span,ymax+0.05*span],tickmode:'array',tickvals:yTicks[i],ticktext:yTicks[i].map(v=>String(+v.toFixed(3))),ticks:'outside',ticklen:3,tickcolor:AX,showline:true,linecolor:AX,linewidth:1,showgrid:false,zeroline:false,tickfont:{family:FONT,size:11.5,color:'#262626'}};
  const cx=(L+colW/2)/W;
  const t1=subjects[i]+(stars[i]?' '+stars[i]:'');
  const t2='r ='+rValues[i]+', p = '+pValues[i];
  layout.annotations.push({xref:'paper',yref:'paper',x:cx,y:1-(rowTop[r]-38)/H,text:'<b>'+t1+'</b>',showarrow:false,xanchor:'center',yanchor:'middle',font:{family:FONT,size:16.5,color:'#000'}});
  layout.annotations.push({xref:'paper',yref:'paper',x:cx,y:1-(rowTop[r]-17)/H,text:'<b>'+t2+'</b>',showarrow:false,xanchor:'center',yanchor:'middle',font:{family:FONT,size:16.5,color:'#000'}});
}
layout.annotations.push({xref:'paper',yref:'paper',x:147/W,y:1-873/H,text:'<b>eccentricity</b>',showarrow:false,xanchor:'center',yanchor:'middle',font:{family:FONT,size:20,color:'#000'}});
layout.annotations.push({xref:'paper',yref:'paper',x:22/W,y:1-783/H,text:'<i>ρ</i>',textangle:-90,showarrow:false,xanchor:'center',yanchor:'middle',font:{family:FONT,size:22,color:'#000'}});
Plotly.newPlot('chart',traces,layout,{displayModeBar:false,staticPlot:true});
</script></body></html>
